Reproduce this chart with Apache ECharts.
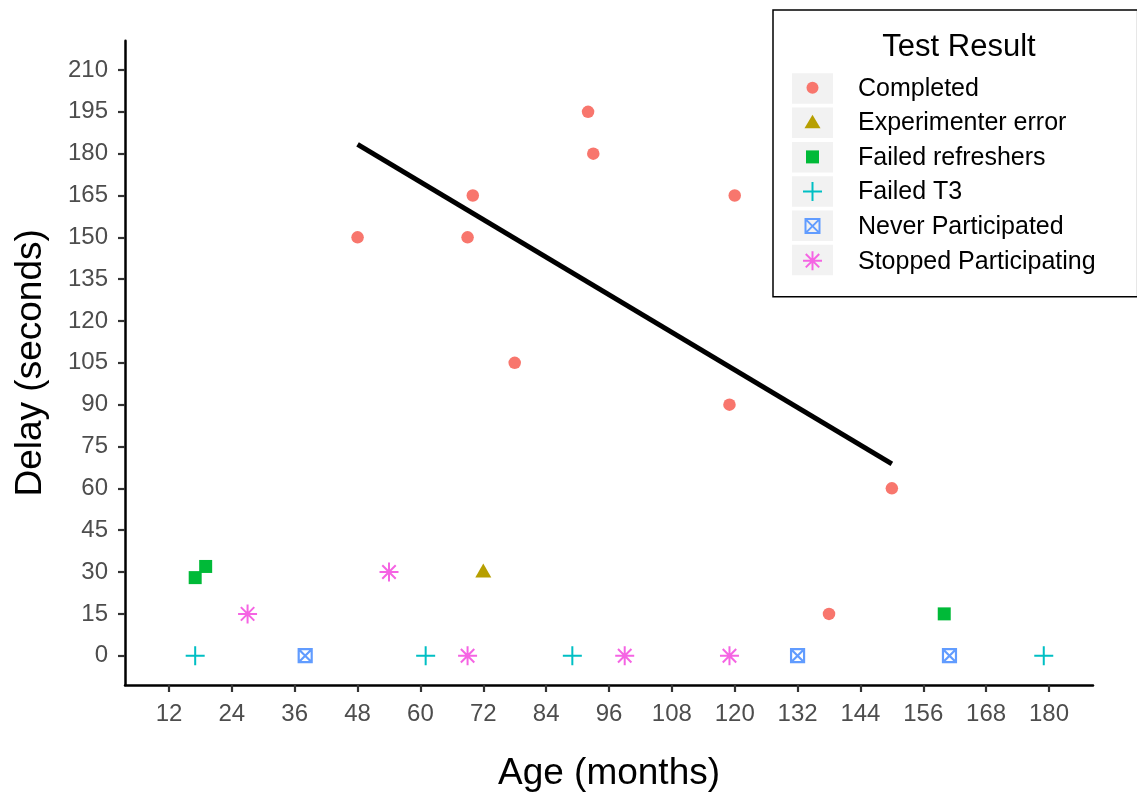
<!DOCTYPE html>
<html>
<head>
<meta charset="utf-8">
<title>Delay by age</title>
<script src="https://cdn.jsdelivr.net/npm/echarts@6/dist/echarts.min.js"></script>
<style>
    html, body { margin: 0; padding: 0; background: #fff; }
    #main { width: 1137px; height: 797px; }
</style>
</head>
<body>
<div id="main"></div>
<script>
// 分类
let categories = ['Completed', 'Experimenter error', 'Failed refreshers', 'Failed T3', 'Never Participated', 'Stopped Participating']
let colors = ['#F8766D', '#B79F00', '#00BA38', '#00BFC4', '#619CFF', '#F564E3']

// 数据 (age in months, delay in seconds)
let completedAge = [48, 69, 70, 78, 92, 93, 119, 120, 138, 150]
let completedDelay = [150, 150, 165, 105, 195, 180, 90, 165, 15, 60]
let errorAge = [72]
let errorDelay = [30]
let refresherAge = [17, 19, 160]
let refresherDelay = [28, 32, 15]
let t3Age = [17, 61, 89, 179]
let t3Delay = [0, 0, 0, 0]
let neverAge = [38, 132, 161]
let neverDelay = [0, 0, 0]
let stoppedAge = [27, 54, 69, 99, 119]
let stoppedDelay = [15, 30, 0, 0, 0]

// 拟合线
let fitAge = [48, 150]
let fitDelay = [183.3, 68.8]

// 刻度
let xTicks = [12, 24, 36, 48, 60, 72, 84, 96, 108, 120, 132, 144, 156, 168, 180]
let yTicks = [0, 15, 30, 45, 60, 75, 90, 105, 120, 135, 150, 165, 180, 195, 210]

let font = 'Liberation Sans'

// ggplot style symbols
let plusPath = 'path://M0,-1L0,1M-1,0L1,0'
let starPath = 'path://M0,-1L0,1M-1,0L1,0M-0.7071,-0.7071L0.7071,0.7071M-0.7071,0.7071L0.7071,-0.7071'
let boxPath = 'path://M-1,-1L1,-1L1,1L-1,1ZM-1,-1L1,1M-1,1L1,-1'

// legend icons, padded to a 19px box
let legendIcons = [
    'path://M-9.5,-9.5M9.5,9.5M-6,0A6,6,0,1,0,6,0A6,6,0,1,0,-6,0Z',
    'path://M-9.5,-9.5M9.5,9.5M0,-7.5L8,6L-8,6Z',
    'path://M-9.5,-9.5M9.5,9.5M-6.5,-6.5L6.5,-6.5L6.5,6.5L-6.5,6.5Z',
    plusPath,
    'path://M-9.5,-9.5M9.5,9.5M-7,-7L7,-7L7,7L-7,7ZM-7,-7L7,7M-7,7L7,-7',
    starPath
]

function pairs(xs, ys) {
    return xs.map(function (x, i) { return [x, ys[i]] })
}

let filledSeries = function (idx, xs, ys, symbol, size, offset) {
    return {
        name: categories[idx],
        type: 'scatter',
        symbol: symbol,
        symbolSize: size,
        symbolOffset: offset || [0, 0],
        itemStyle: { color: colors[idx], opacity: 1 },
        data: pairs(xs, ys),
        z: 3
    }
}

let strokeSeries = function (idx, xs, ys, symbol, size, width) {
    return {
        name: categories[idx],
        type: 'scatter',
        symbol: symbol,
        symbolSize: size,
        itemStyle: { color: 'rgba(0,0,0,0)', borderColor: colors[idx], borderWidth: width, opacity: 1 },
        data: pairs(xs, ys),
        z: 3
    }
}

// grey legend keys
let keyRects = categories.map(function (c, i) {
    return {
        type: 'rect',
        left: 792,
        top: 73.3 + i * 34.3,
        shape: { width: 41, height: 30.5 },
        style: { fill: '#F2F2F2' },
        z: 1
    }
})

let chart = echarts.init(document.getElementById('main'), null, { renderer: 'canvas' })

let option = {
    animation: false,
    backgroundColor: '#fff',
    grid: { left: 125, right: 44, top: 40.7, bottom: 111.2, containLabel: false },
    graphic: keyRects.concat([{
        type: 'text',
        x: 959,
        y: 47,
        style: { text: 'Test Result', fontSize: 31, fontFamily: font, fill: '#000', align: 'center', verticalAlign: 'middle' },
        z: 5
    }]),
    legend: {
        orient: 'vertical',
        left: 773,
        top: 10,
        padding: [66.2, 42, 22.6, 29],
        borderColor: '#000',
        borderWidth: 1.5,
        itemWidth: 19,
        itemHeight: 19,
        itemGap: 9.6,
        selectedMode: false,
        data: categories.map(function (c, i) { return { name: c, icon: legendIcons[i] } }),
        formatter: function (name) { return '{t|' + name + '}' },
        textStyle: {
            color: '#000',
            fontFamily: font,
            fontSize: 25,
            rich: { t: { fontSize: 25, fontFamily: font, color: '#000', padding: [2, 0, 0, 31] } }
        }
    },
    xAxis: {
        type: 'value',
        min: 3.6,
        max: 188.4,
        name: 'Age (months)',
        nameLocation: 'middle',
        nameGap: 70,
        nameTextStyle: { color: '#000', fontSize: 37, fontFamily: font },
        axisLine: { show: true, onZero: false, lineStyle: { color: '#000', width: 2.5 } },
        axisTick: { show: true, length: 7, customValues: xTicks, lineStyle: { color: '#333', width: 2.2 } },
        axisLabel: { customValues: xTicks, margin: 17, color: '#4D4D4D', fontSize: 24, fontFamily: font },
        splitLine: { show: false }
    },
    yAxis: {
        type: 'value',
        min: -10.5,
        max: 220.5,
        name: 'Delay (seconds)',
        nameLocation: 'middle',
        nameGap: 76,
        nameTextStyle: { color: '#000', fontSize: 37, fontFamily: font },
        axisLine: { show: true, onZero: false, lineStyle: { color: '#000', width: 2.5 } },
        axisTick: { show: true, length: 7, customValues: yTicks, lineStyle: { color: '#333', width: 2.2 } },
        axisLabel: { customValues: yTicks, margin: 17, color: '#4D4D4D', fontSize: 24, fontFamily: font },
        splitLine: { show: false }
    },
    series: [
        filledSeries(0, completedAge, completedDelay, 'circle', 12.5),
        filledSeries(1, errorAge, errorDelay, 'triangle', [16, 14], [0, -1.5]),
        filledSeries(2, refresherAge, refresherDelay, 'rect', 13),
        strokeSeries(3, t3Age, t3Delay, plusPath, 19, 2),
        strokeSeries(4, neverAge, neverDelay, boxPath, 13, 2.2),
        strokeSeries(5, stoppedAge, stoppedDelay, starPath, 19, 2),
        {
            name: 'fit',
            type: 'line',
            showSymbol: false,
            silent: true,
            data: pairs(fitAge, fitDelay),
            lineStyle: { color: '#000', width: 5 },
            z: 4
        }
    ]
}

chart.setOption(option)
</script>
</body>
</html>
